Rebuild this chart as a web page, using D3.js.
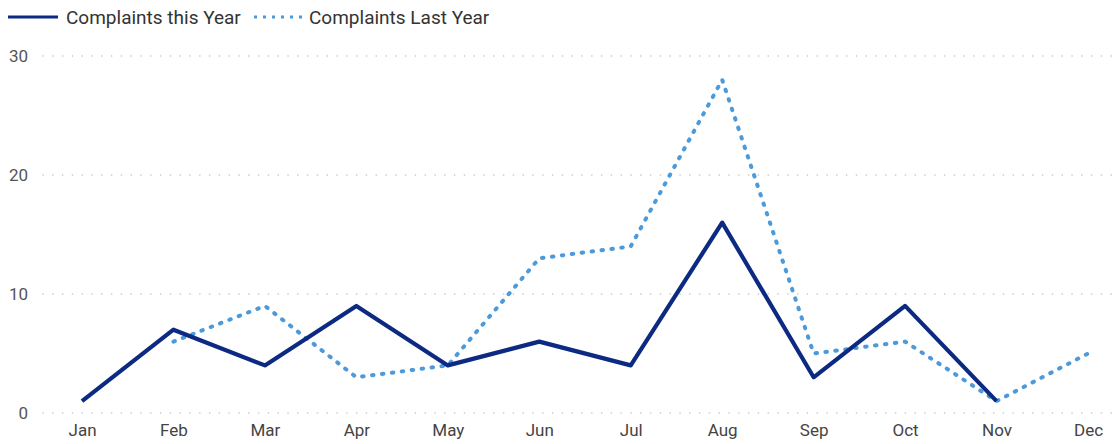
<!DOCTYPE html>
<html>
<head>
<meta charset="utf-8">
<script src="https://cdn.jsdelivr.net/npm/d3@7"></script>
<style>
  body { margin: 0; background: #fff; }
  svg { display: block; }
</style>
</head>
<body>
<svg class="chart" width="1118" height="444"></svg>
<script>
// Complaints per month, this year vs last year

var months = ["Jan", "Feb", "Mar", "Apr", "May", "Jun", "Jul", "Aug", "Sep", "Oct", "Nov", "Dec"];
var thisYear = [1, 7, 4, 9, 4, 6, 4, 16, 3, 9, 1, null];
var lastYear = [null, 6, 9, 3, 4, 13, 14, 28, 5, 6, 1, 5];
var yTicks = [0, 10, 20, 30];
var seriesNames = ["Complaints this Year", "Complaints Last Year"];

var darkBlue = "#0C2A82";
var lightBlue = "#4C9ADA";
var font = "Roboto, sans-serif";

var svg = d3.select(".chart");

var x = d3.scalePoint()
    .domain(months)
    .range([82, 1088]);

var y = d3.scaleLinear()
    .domain([0, 30])
    .range([413, 56]);

// gridlines
svg.append("g")
    .selectAll("line")
    .data(yTicks).enter()
    .append("line")
    .attr("x1", 43)
    .attr("x2", 1112)
    .attr("y1", function (d) { return y(d); })
    .attr("y2", function (d) { return y(d); })
    .attr("stroke", "#c4c4c4")
    .attr("stroke-width", 1.6)
    .attr("stroke-linecap", "round")
    .attr("stroke-dasharray", "0.1,9.7");

// y axis labels
var yAxis = d3.axisLeft(y).tickValues(yTicks).tickSize(0).tickPadding(0);
var gy = svg.append("g")
    .attr("transform", "translate(28,0)")
    .call(yAxis);
gy.select(".domain").remove();
gy.selectAll("text")
    .attr("font-family", font)
    .attr("font-size", "17px")
    .attr("fill", "#555");

// x axis labels
var xAxis = d3.axisBottom(x).tickSize(0).tickPadding(0);
var gx = svg.append("g")
    .attr("transform", "translate(0,424)")
    .call(xAxis);
gx.select(".domain").remove();
gx.selectAll("text")
    .attr("font-family", font)
    .attr("font-size", "17px")
    .attr("fill", "#444");

var line = d3.line()
    .defined(function (d) { return d != null; })
    .x(function (d, i) { return x(months[i]); })
    .y(function (d) { return y(d); });

svg.append("path")
    .datum(lastYear)
    .attr("d", line)
    .attr("fill", "none")
    .attr("stroke", lightBlue)
    .attr("stroke-width", 4)
    .attr("stroke-linecap", "round")
    .attr("stroke-dasharray", "1.5,8.5");

svg.append("path")
    .datum(thisYear)
    .attr("d", line)
    .attr("fill", "none")
    .attr("stroke", darkBlue)
    .attr("stroke-width", 4.2)
    .attr("stroke-linejoin", "round");

// Legende
var legend = svg.append("g").attr("class", "legend");

legend.append("line")
    .attr("x1", 8).attr("x2", 58)
    .attr("y1", 17).attr("y2", 17)
    .attr("stroke", darkBlue)
    .attr("stroke-width", 3);

legend.append("text")
    .attr("x", 66)
    .attr("y", 24)
    .text(seriesNames[0])
    .attr("font-family", font)
    .attr("font-size", "19px")
    .attr("fill", "#333");

legend.append("line")
    .attr("x1", 254).attr("x2", 302)
    .attr("y1", 17).attr("y2", 17)
    .attr("stroke", lightBlue)
    .attr("stroke-width", 3)
    .attr("stroke-dasharray", "3,6");

legend.append("text")
    .attr("x", 309)
    .attr("y", 24)
    .text(seriesNames[1])
    .attr("font-family", font)
    .attr("font-size", "19px")
    .attr("fill", "#333");
</script>
</body>
</html>
